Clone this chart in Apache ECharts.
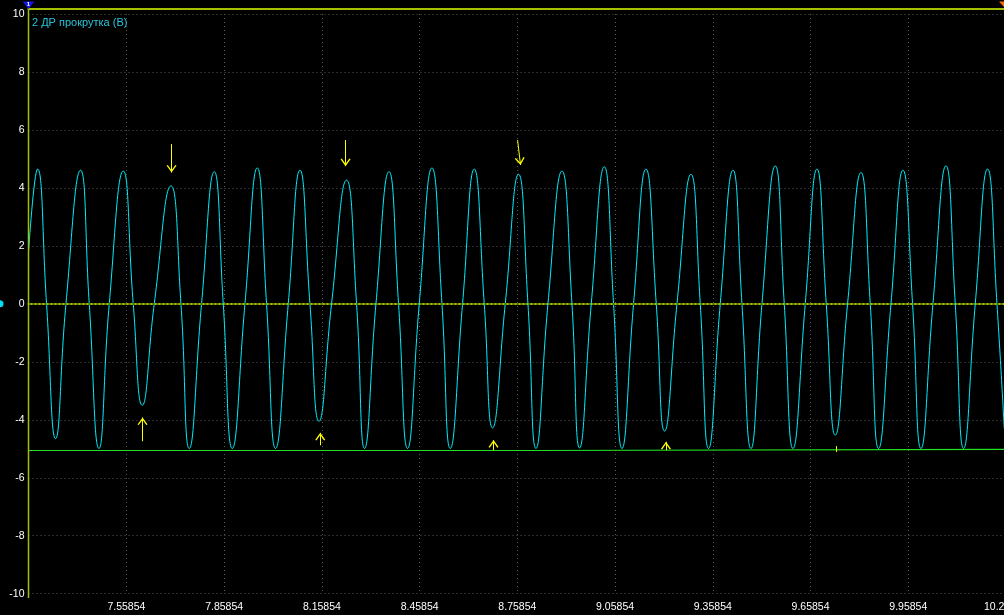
<!DOCTYPE html>
<html><head><meta charset="utf-8">
<script src="https://cdn.jsdelivr.net/npm/echarts@6/dist/echarts.min.js"></script>
<style>html,body{margin:0;padding:0;background:#000;}#c{width:1004px;height:615px;}</style>
</head><body><div id="c"></div>
<script>
const seriesName = '2 ДР прокрутка (В)';
const xMin = 7.25854, xMax = 10.25854, xStep = 0.3;
const yMin = -10, yMax = 10, yStep = 2;

const times = [
  7.25854, 7.28632, 7.31394, 7.34157, 7.37349, 7.41830, 7.44501, 7.47478, 7.50639,
  7.54937, 7.58006, 7.60768, 7.64452, 7.69578, 7.72647, 7.75195, 7.78970,
  7.82868, 7.85631, 7.88393, 7.92291, 7.96067, 7.98921, 8.01684, 8.05582,
  8.09173, 8.12242, 8.15005, 8.18872, 8.23476, 8.26546, 8.29001, 8.32500,
  8.36490, 8.39437, 8.42199, 8.45791, 8.49689, 8.52758, 8.55306, 8.59081,
  8.62672, 8.65742, 8.68289, 8.72188, 8.76270, 8.79155, 8.81611, 8.85294,
  8.89591, 8.92660, 8.94993, 8.98584, 9.02575, 9.05429, 9.08007, 9.11569,
  9.15375, 9.18536, 9.21084, 9.24890, 9.29187, 9.32041, 9.34589, 9.38180,
  9.42078, 9.44841, 9.47603, 9.50980, 9.55062, 9.57825, 9.60495, 9.64270,
  9.67862, 9.70716, 9.73479, 9.77254, 9.81367, 9.84221, 9.86769, 9.90575,
  9.94258, 9.97205, 9.99783, 10.03467, 10.07457, 10.10312, 10.12859, 10.16451,
  10.20226, 10.23111, 10.2535
];
const volts = [
  1.78, 4.65, 0, -4.65, 0, 4.61, 0, -4.99, 0,
  4.58, 0, -3.50, 0, 4.07, 0, -4.99, 0,
  4.56, 0, -4.99, 0, 4.69, 0, -4.99, 0,
  4.61, 0, -4.05, 0, 4.27, 0, -4.99, 0,
  4.56, 0, -4.99, 0, 4.69, 0, -4.99, 0,
  4.65, 0, -4.28, 0, 4.47, 0, -4.99, 0,
  4.58, 0, -4.97, 0, 4.73, 0, -4.99, 0,
  4.65, 0, -4.39, 0, 4.47, 0, -4.99, 0,
  4.61, 0, -4.99, 0, 4.76, 0, -4.99, 0,
  4.65, 0, -4.53, 0, 4.53, 0, -4.99, 0,
  4.61, 0, -4.99, 0, 4.76, 0, -4.99, 0,
  4.65, 0, -4.30
];
const levelTimes = [7.25854, 8.8047, 8.8047, 10.25854];
const levelVolts = [-5.06, -5.06, -5.02, -5.02];
// annotation arrows: [t from, v from, t tip, v tip]
const arrows = [
  [7.69762, 5.51, 7.69762, 4.53],
  [8.23168, 5.65, 8.23168, 4.75],
  [8.75966, 5.65, 8.76886, 4.79],
  [7.60860, -4.74, 7.60860, -3.92],
  [8.15404, -4.88, 8.15404, -4.45],
  [8.68597, -5.05, 8.68597, -4.70],
  [9.21512, -5.05, 9.21512, -4.76]
];
const ticksMarks = [[9.73875, -4.91, 9.73875, -5.11]];

const signal = times.map((t, i) => [t, volts[i]]);
const level = levelTimes.map((t, i) => [t, levelVolts[i]]);
const chevron = 'path://M8,8L13,15L11.8,15.6L8,10.2L4.2,15.6L3,15Z M0,0L0.01,0Z M16,16L15.99,16Z';

const yellow = '#ffff00';
const markData = [{yAxis: 0}];
arrows.forEach(a => markData.push([
  {coord: [a[0], a[1]], symbol: 'none', lineStyle: {color: yellow, width: 1, type: 'solid'}},
  {coord: [a[2], a[3]], symbol: chevron, symbolSize: 16}
]));
ticksMarks.forEach(a => markData.push([
  {coord: [a[0], a[1]], symbol: 'none', lineStyle: {color: yellow, width: 1, type: 'solid'}},
  {coord: [a[2], a[3]], symbol: 'none'}
]));

const frameColor = '#a4c000';
const labelFont = 'Liberation Sans, Arial, sans-serif';
const chart = echarts.init(document.getElementById('c'));
chart.setOption({
  animation: false,
  backgroundColor: '#000000',
  title: {
    text: seriesName, left: 32, top: 17, padding: 0,
    textStyle: {color: '#29c5dc', fontSize: 11, fontWeight: 'normal', fontFamily: labelFont}
  },
  grid: {left: 28.5, right: -1.9, top: 14, bottom: 21.3, containLabel: false, outerBoundsMode: 'none'},
  xAxis: [{
    type: 'value', min: xMin, max: xMax, interval: xStep, offset: 4,
    axisLine: {show: true, lineStyle: {color: frameColor, width: 2}},
    axisTick: {show: false},
    axisLabel: {
      color: '#ffffff', fontSize: 10.5, fontFamily: labelFont, margin: 4, showMinLabel: false,
      formatter: v => { const k = Math.round((v - xMin) / xStep); return (xMin + k * xStep).toFixed(5); }
    },
    splitLine: {show: true, lineStyle: {color: '#555555', width: 1, type: [1, 3]}}
  }, {
    type: 'value', position: 'top', min: xMin, max: xMax, interval: xStep, offset: 5,
    axisLine: {show: true, lineStyle: {color: frameColor, width: 2}},
    axisTick: {show: false}, axisLabel: {show: false}, splitLine: {show: false}
  }],
  yAxis: {
    type: 'value', min: yMin, max: yMax, interval: yStep,
    axisLine: {show: false},
    axisTick: {show: false},
    axisLabel: {color: '#ffffff', fontSize: 10.5, fontFamily: labelFont, margin: 4},
    splitLine: {show: true, lineStyle: {color: '#555555', width: 1, type: [1, 3]}}
  },
  graphic: [
    {type: 'line', shape: {x1: 28.5, y1: 8, x2: 28.5, y2: 598}, style: {stroke: frameColor, lineWidth: 1.5}, z: 10},
    {type: 'polygon', shape: {points: [[22.7, 1.5], [34.3, 1.5], [28.5, 9]]}, style: {fill: '#1515f0'}, z: 11},
    {type: 'text', x: 28.5, y: 4, style: {text: '1', fill: '#ffffff', fontSize: 6, fontWeight: 'bold', align: 'center', verticalAlign: 'middle', fontFamily: labelFont}, z: 12},
    {type: 'polygon', shape: {points: [[999, 1.5], [1004, 1.5], [1004, 7]]}, style: {fill: '#ff6a00'}, z: 11},
    {type: 'circle', shape: {cx: 0, cy: 303.8, r: 3.5}, style: {fill: '#00e0f0'}, z: 11}
  ],
  series: [{
    name: seriesName, type: 'line', data: signal, smooth: 0.5, showSymbol: false,
    lineStyle: {color: '#00eefc', width: 1}, itemStyle: {color: '#00eefc'}, z: 3
  }, {
    name: 'level', type: 'line', data: level, showSymbol: false,
    lineStyle: {color: '#22e022', width: 1.2}, itemStyle: {color: '#22e022'}, z: 4,
    markLine: {
      silent: true, animation: false, label: {show: false}, symbol: ['none', 'none'],
      lineStyle: {color: '#556600', width: 2, type: [2, 2], opacity: 1},
      emphasis: {disabled: true},
      data: markData
    }
  }]
});
</script></body></html>
